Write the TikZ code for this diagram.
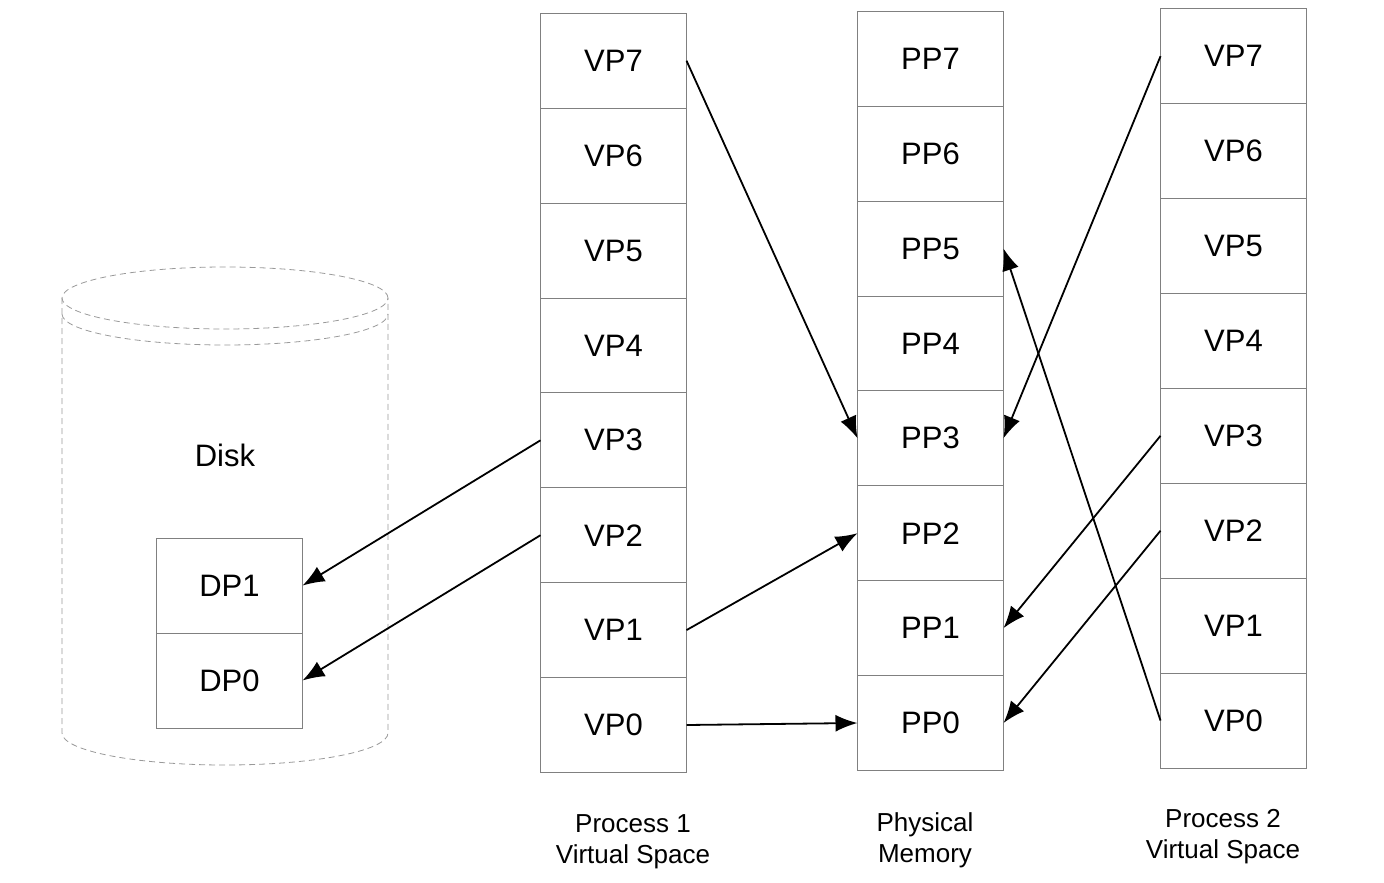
\documentclass[tikz,border=0pt]{standalone}
\usepackage{fontspec}
\setmainfont{Liberation Sans}
\usetikzlibrary{positioning}
\usetikzlibrary{arrows.meta}

\begin{document}
\begin{tikzpicture}[x=0.5pt, y=-0.5pt, node distance=0pt,
  every node/.style={font=\fontsize{15.5}{18}\selectfont},
  cell/.style={draw=black!50, thin, minimum width=73pt, minimum height=47.45pt, inner sep=0pt, outer sep=0pt},
  link/.style={-{Latex[length=11pt,width=8.5pt]}, line width=0.9pt},
  caption/.style={align=center, font=\fontsize{13}{15.5}\selectfont}]
\useasboundingbox (0,0) rectangle (1384,882);
% disk cylinder
\draw[black!40, densely dashed, thin] (225,298) ellipse [x radius=81.5pt, y radius=15.5pt];
\draw[black!40, densely dashed, thin] (62,314) arc[start angle=180, end angle=360, x radius=81.5pt, y radius=15.5pt];
\draw[black!40, densely dashed, thin] (62,298) -- (62,733) arc[start angle=180, end angle=360, x radius=81.5pt, y radius=16pt] -- (388,298);
\node (disk) at (225,455) {Disk};
\node[cell] (dp0) at (229.5,680.5) {DP0};
\node[cell, above=of dp0] (dp1) {DP1};
% process 1 virtual space
\node[cell] (a0) at (613.5,725) {VP0};
\node[cell, above=of a0] (a1) {VP1};
\node[cell, above=of a1] (a2) {VP2};
\node[cell, above=of a2] (a3) {VP3};
\node[cell, above=of a3] (a4) {VP4};
\node[cell, above=of a4] (a5) {VP5};
\node[cell, above=of a5] (a6) {VP6};
\node[cell, above=of a6] (a7) {VP7};
% physical memory
\node[cell] (p0) at (930.5,723) {PP0};
\node[cell, above=of p0] (p1) {PP1};
\node[cell, above=of p1] (p2) {PP2};
\node[cell, above=of p2] (p3) {PP3};
\node[cell, above=of p3] (p4) {PP4};
\node[cell, above=of p4] (p5) {PP5};
\node[cell, above=of p5] (p6) {PP6};
\node[cell, above=of p6] (p7) {PP7};
% process 2 virtual space
\node[cell] (b0) at (1233.5,720.5) {VP0};
\node[cell, above=of b0] (b1) {VP1};
\node[cell, above=of b1] (b2) {VP2};
\node[cell, above=of b2] (b3) {VP3};
\node[cell, above=of b3] (b4) {VP4};
\node[cell, above=of b4] (b5) {VP5};
\node[cell, above=of b5] (b6) {VP6};
\node[cell, above=of b6] (b7) {VP7};
% captions
\node[caption] (capa) at (633,842) {Process 1\\Virtual Space};
\node[caption] (capp) at (925,840) {Physical\\Memory};
\node[caption] (capb) at (1223,837) {Process 2\\Virtual Space};
% mappings
\draw[link] (a7.east) -- (p3.west);
\draw[link] (a3.west) -- (dp1.east);
\draw[link] (a2.west) -- (dp0.east);
\draw[link] (a1.east) -- (p2.west);
\draw[link] (a0.east) -- (p0.west);
\draw[link] (b7.west) -- (p3.east);
\draw[link] (b3.west) -- (p1.east);
\draw[link] (b2.west) -- (p0.east);
\draw[link] (b0.west) -- (p5.east);
\end{tikzpicture}
\end{document}
